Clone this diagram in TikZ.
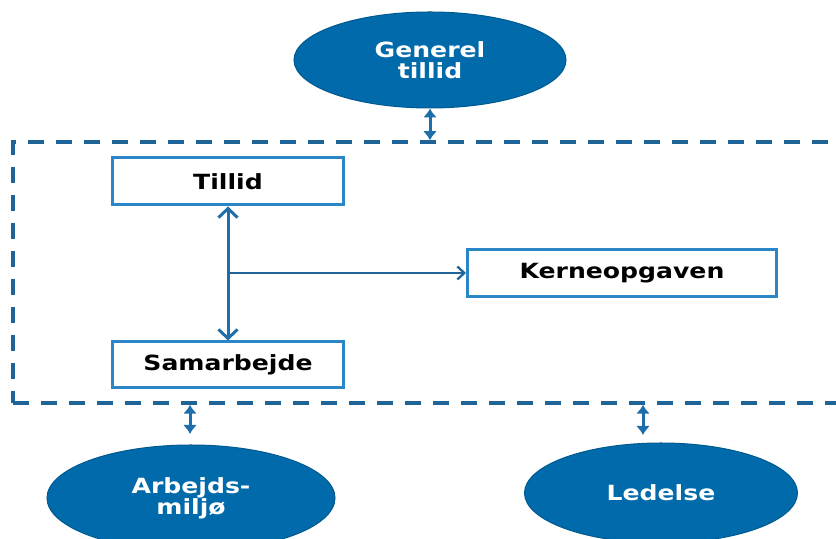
\documentclass[tikz,border=0pt]{standalone}
\usepackage{fontspec}
\setmainfont{DejaVu Sans}[FakeStretch=1.2]
\usetikzlibrary{arrows.meta,shapes.geometric}
\definecolor{ovalblue}{RGB}{0,106,170}
\definecolor{boxblue}{RGB}{42,134,198}
\definecolor{dashblue}{RGB}{30,100,150}
\definecolor{arrowblue}{RGB}{30,110,170}

\begin{document}
\begin{tikzpicture}[x=1bp,y=1bp,
        oval/.style={ellipse, fill=ovalblue, draw=ovalblue!85!black, line width=1bp,
            text=white, font=\bfseries\fontsize{21}{21}\selectfont, align=center, inner sep=0pt},
        topicbox/.style={rectangle, draw=boxblue, line width=3bp, fill=white,
            font=\bfseries\fontsize{21}{24}\selectfont, inner sep=0pt},
        biarrow/.style={draw=arrowblue, line width=3bp, {Latex[length=9bp,width=14bp]}-{Latex[length=9bp,width=14bp]}},
        barbarrow/.style={draw=arrowblue, line width=3bp, {Straight Barb[length=9bp,width=19bp]}-{Straight Barb[length=9bp,width=19bp]}},
        feed/.style={draw=dashblue, line width=2.3bp, -{Straight Barb[length=7bp,width=13bp]}}]
        \useasboundingbox (0,0) rectangle (836,539);

        % dashed frame
        \node[draw=dashblue, line width=3.5bp, dash pattern=on 16bp off 12bp,
            minimum width=837bp, minimum height=261bp, inner sep=0pt] (frame) at (431.5,266.5) {};

        % ovals outside the frame
        \node[oval, minimum width=272bp, minimum height=96bp] (generel) at (430,479) {Generel\\tillid};
        \node[oval, minimum width=288bp, minimum height=106bp] (arbejde) at (191,41) {Arbejds-\\miljø};
        \node[oval, minimum width=273bp, minimum height=100bp] (ledelse) at (661,46) {Ledelse};

        % boxes inside the frame
        \node[topicbox, minimum width=231bp, minimum height=47bp] (tillid) at (228,357.5) {Tillid};
        \node[topicbox, minimum width=231bp, minimum height=46bp] (samarbejde) at (228,174) {Samarbejde};
        \node[topicbox, minimum width=309bp, minimum height=47bp] (kerne) at (622,266) {Kerneopgaven};

        \coordinate (split) at (tillid.south |- kerne.west);
        \coordinate (arbtop) at (190,105);
        \coordinate (ledtop) at (643,104);

        \draw[biarrow] (generel.south) -- (generel.south |- frame.north);
        \draw[biarrow] (arbtop |- frame.south) -- (arbtop);
        \draw[biarrow] (ledtop |- frame.south) -- (ledtop);

        \draw[barbarrow] (tillid.south) -- (samarbejde.north);
        \draw[feed] (split) -- (kerne.west);
    \end{tikzpicture}
\end{document}
